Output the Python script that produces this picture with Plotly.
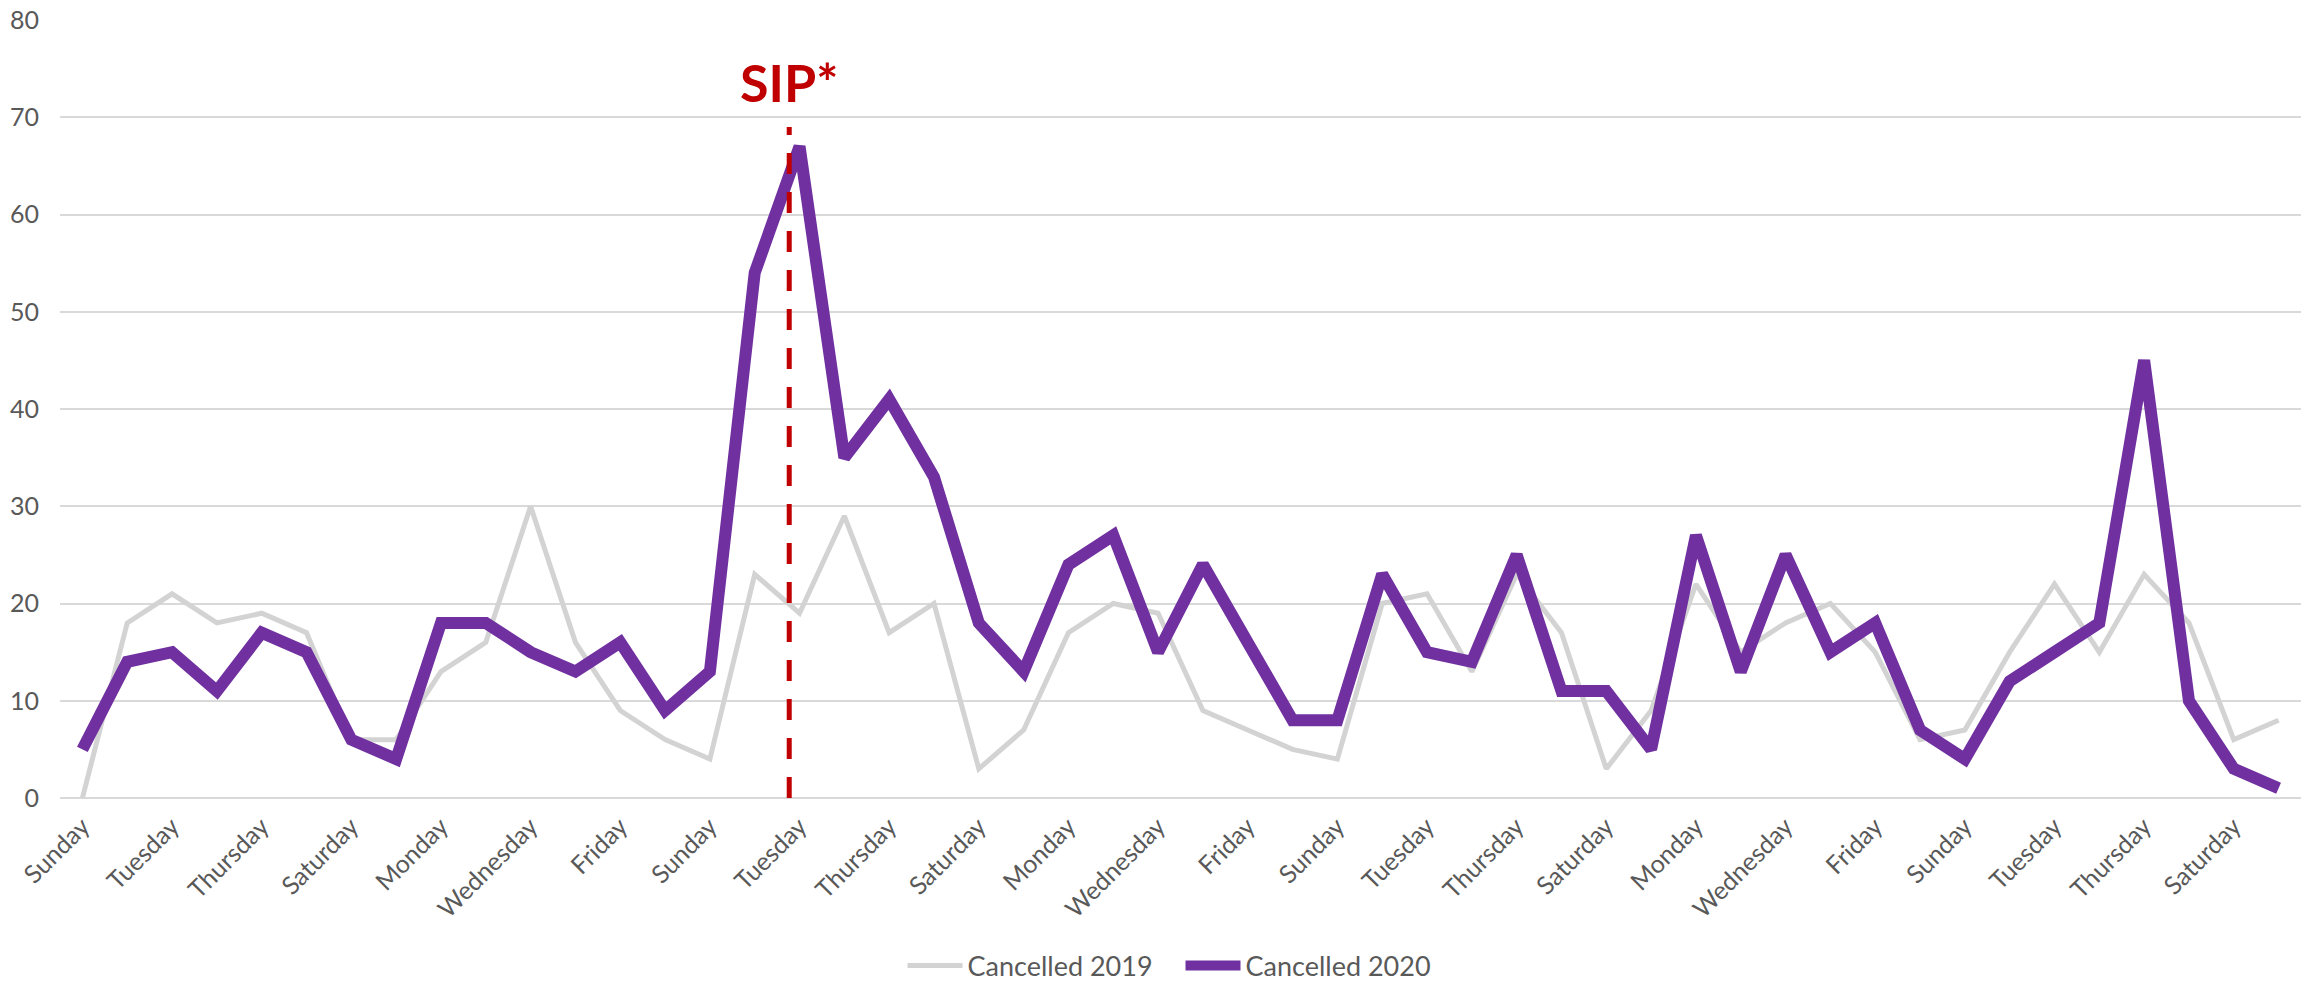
import plotly.graph_objects as go

days = ["Sunday", "Monday", "Tuesday", "Wednesday", "Thursday", "Friday", "Saturday",
        "Sunday", "Monday", "Tuesday", "Wednesday", "Thursday", "Friday", "Saturday",
        "Sunday", "Monday", "Tuesday", "Wednesday", "Thursday", "Friday", "Saturday",
        "Sunday", "Monday", "Tuesday", "Wednesday", "Thursday", "Friday", "Saturday",
        "Sunday", "Monday", "Tuesday", "Wednesday", "Thursday", "Friday", "Saturday",
        "Sunday", "Monday", "Tuesday", "Wednesday", "Thursday", "Friday", "Saturday",
        "Sunday", "Monday", "Tuesday", "Wednesday", "Thursday", "Friday", "Saturday",
        "Sunday"]

cancelled_2019 = [0, 18, 21, 18, 19, 17, 6, 6, 13, 16, 30, 16, 9, 6, 4, 23, 19, 29, 17, 20,
                  3, 7, 17, 20, 19, 9, 7, 5, 4, 20, 21, 13, 23, 17, 3, 9, 22, 15, 18, 20,
                  15, 6, 7, 15, 22, 15, 23, 18, 6, 8]

cancelled_2020 = [5, 14, 15, 11, 17, 15, 6, 4, 18, 18, 15, 13, 16, 9, 13, 54, 67, 35, 41, 33,
                  18, 13, 24, 27, 15, 24, 16, 8, 8, 23, 15, 14, 25, 11, 11, 5, 27, 13, 25, 15,
                  18, 7, 4, 12, 15, 18, 45, 10, 3, 1]

sip_position = 15.77
sip_label = "SIP*"

x = list(range(len(days)))
tickvals = x[::2]
ticktext = days[::2]

FONT = "Lato, 'Noto Sans', Arial, sans-serif"
TXT = "#595959"

fig = go.Figure()
fig.add_trace(go.Scatter(x=x, y=cancelled_2019, mode="lines", name="Cancelled 2019",
                         line=dict(color="#d3d3d3", width=5)))
fig.add_trace(go.Scatter(x=x, y=cancelled_2020, mode="lines", name="Cancelled 2020",
                         line=dict(color="#7030a0", width=12)))

fig.add_shape(type="line", xref="x", yref="y", x0=sip_position, x1=sip_position,
              y0=0, y1=69, line=dict(color="#c00000", width=5, dash="21px,18px"))
fig.add_annotation(x=sip_position, y=73.6, xref="x", yref="y", text="<b>%s</b>" % sip_label,
                   showarrow=False, xanchor="center", yanchor="middle",
                   font=dict(family=FONT, size=52, color="#c00000"))

fig.update_layout(
    width=2310, height=981,
    margin=dict(l=60, r=9, t=20, b=183, autoexpand=False),
    paper_bgcolor="white", plot_bgcolor="white",
    font=dict(family=FONT, size=25, color=TXT),
    showlegend=True,
    legend=dict(orientation="h", x=0.5, xanchor="center", y=-0.216, yanchor="middle",
                font=dict(family=FONT, size=27, color=TXT), itemwidth=55,
                entrywidth=208, entrywidthmode="pixels"),
)
fig.update_xaxes(range=[-0.5, len(days) - 0.5], tickmode="array", tickvals=tickvals,
                 ticktext=ticktext, tickangle=-45, showgrid=False, zeroline=False,
                 showline=False, ticks="", ticklabelstandoff=8, automargin=False,
                 tickfont=dict(family=FONT, size=25, color=TXT))
fig.update_yaxes(range=[0, 80], dtick=10, showgrid=True, gridcolor="#d9d9d9", gridwidth=2,
                 zeroline=True, zerolinecolor="#d9d9d9", zerolinewidth=2, showline=False,
                 ticks="", ticklabelstandoff=20, automargin=False,
                 tickfont=dict(family=FONT, size=25, color=TXT))

fig.write_html("out.html", config={"displayModeBar": False},
               post_script="document.body.style.margin='0';")
